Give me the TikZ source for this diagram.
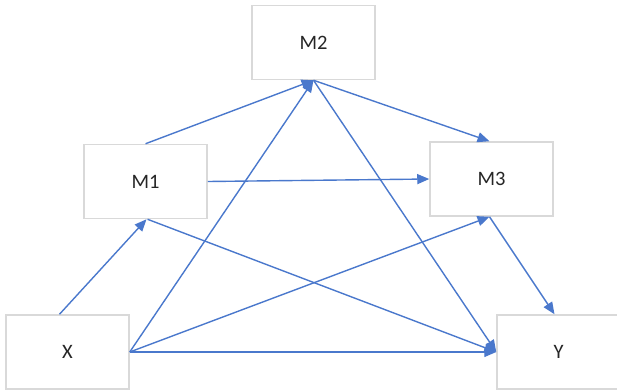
\documentclass[tikz,border=0pt]{standalone}
\usepackage{fontspec}
\setmainfont{Carlito}
\usetikzlibrary{arrows.meta}
\definecolor{boxgray}{HTML}{D9D9D9}
\definecolor{arrblue}{HTML}{4A78CC}
\begin{document}
\begin{tikzpicture}[x=1pt,y=-1pt,
  vbox/.style={draw=boxgray,line width=1.5pt,fill=white,minimum width=123pt,minimum height=74pt,inner sep=0pt,font=\fontsize{20.5}{24}\selectfont,text=black!85},
  conn/.style={draw=arrblue,line width=1.4pt,-{Triangle[length=12pt,width=10pt]}}]
\useasboundingbox (0,0) rectangle (617,391);
\node[vbox] (M2) at (313.5,42.5) {M2};
\node[vbox] (M1) at (145.5,181.5) {M1};
\node[vbox] (M3) at (491.5,179) {M3};
\node[vbox] (X) at (67.5,352) {X};
\node[vbox] (Y) at (558.5,352) {Y};
\draw[conn] ([xshift=-8pt]X.north) -- ([xshift=1pt]M1.south);
\draw[conn] (M1.north) -- (M2.south);
\draw[conn] (M1.east) -- (M3.west);
\draw[conn] ([xshift=2pt]M1.south) -- (Y.west);
\draw[conn] (M2.south) -- ([xshift=-2pt]M3.north);
\draw[conn] (M2.south) -- (Y.west);
\draw[conn] (X.east) -- (M2.south);
\draw[conn] (X.east) -- ([xshift=-2pt]M3.south);
\draw[conn] (X.east) -- (Y.west);
\draw[conn] ([xshift=-2pt]M3.south) -- ([xshift=-4pt]Y.north);
\end{tikzpicture}
\end{document}
